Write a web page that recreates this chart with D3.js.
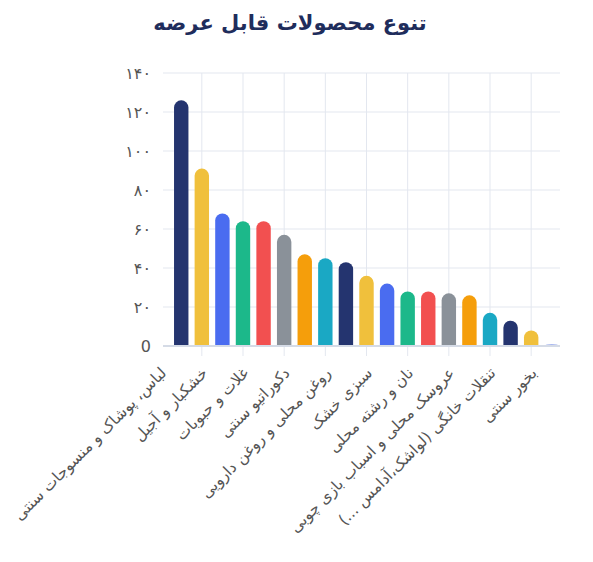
<!DOCTYPE html>
<html><head><meta charset="utf-8">
<script src="https://cdn.jsdelivr.net/npm/d3@7"></script>
<style>
body{margin:0;background:#fff;font-family:"DejaVu Sans",sans-serif;}
</style></head><body><div id="chart"></div>
<script>
// shown axis labels (every other category)
const labels = ["لباس، پوشاک و منسوجات سنتی","خشکبار و آجیل","غلات و حبوبات","دکوراتیو سنتی",
  "روغن محلی و روغن دارویی","سبزی خشک","نان و رشته محلی","عروسک محلی و اسباب بازی چوبی",
  "تنقلات خانگی (لواشک،آدامس ...)","بخور سنتی"];
const values = [126,91,68,64,64,57,47,45,43,36,32,28,28,27,26,17,13,8,1];
const colors = ["#24346f","#f0c03c","#4a6cf0","#1cb88a","#f25050","#8a9199","#f59e0b","#1aa8c4"];
const yTicks = [0,20,40,60,80,100,120,140];

const W = 593, H = 562, margin = {top:73, right:33, bottom:216, left:163};
const width = W - margin.left - margin.right, height = H - margin.top - margin.bottom;
const fa = n => n === 0 ? "0" : String(n).replace(/\d/g, d => "۰۱۲۳۴۵۶۷۸۹"[d]);

const svg = d3.select("#chart").append("svg").attr("width", W).attr("height", H);
svg.append("text").attr("x", 290).attr("y", 30).attr("text-anchor","middle")
  .attr("font-size", 21).attr("font-weight","bold").attr("fill","#1f2d5c")
  .text("تنوع محصولات قابل عرضه");

const chart = svg.append("g").attr("transform", `translate(${margin.left},${margin.top})`);
const x = d3.scaleBand().domain(d3.range(values.length)).range([10, width]).paddingInner(0.3).paddingOuter(0.05);
const y = d3.scaleLinear().domain([0,140]).range([height,0]);

// grid
chart.selectAll(".hg").data(yTicks).join("line")
  .attr("x1",0).attr("x2",width).attr("y1",d=>y(d)).attr("y2",d=>y(d))
  .attr("stroke","#e3e7ef");
const vt = d3.range(1, values.length, 2);
chart.selectAll(".vg").data(vt).join("line")
  .attr("x1",d=>x(d)+x.bandwidth()/2).attr("x2",d=>x(d)+x.bandwidth()/2)
  .attr("y1",0).attr("y2",height+10).attr("stroke","#e3e7ef");

chart.selectAll(".yl").data(yTicks).join("text")
  .attr("x",-12).attr("y",d=>y(d)).attr("dy","0.35em").attr("text-anchor","end")
  .attr("font-size",16).attr("fill","#555").text(fa);

// bars with rounded tops
const bw = x.bandwidth();
chart.selectAll(".bar").data(values).join("path")
  .attr("fill",(d,i)=> i === values.length-1 ? "#a9b8ef" : colors[i % colors.length])
  .attr("d",(d,i)=>{
    const x0 = x(i), r = Math.min(bw/2, (y(0)-y(d))), top = y(d);
    return `M${x0},${y(0)}V${top+r}A${bw/2},${r} 0 0 1 ${x0+bw},${top+r}V${y(0)}Z`;
  });

chart.append("line").attr("x1",0).attr("x2",width).attr("y1",height).attr("y2",height)
  .attr("stroke","#d5dbe6").attr("stroke-width",2);

// rotated category labels
chart.selectAll(".xl").data(labels).join("text")
  .attr("text-anchor","end").attr("font-size",15.5).attr("fill","#555")
  .attr("transform",(d,i)=>`translate(${x(i*2)+bw/2-14},${height+28}) rotate(-45)`)
  .text(d=>d);
</script></body></html>
